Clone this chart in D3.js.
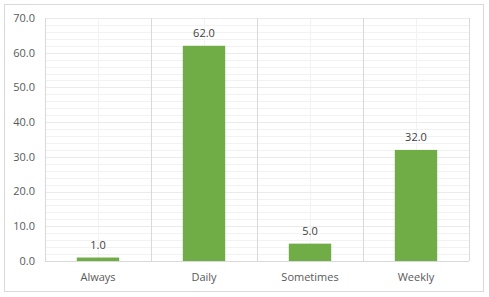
<!DOCTYPE html>
<html>
<head>
<meta charset="utf-8">
<script src="https://cdn.jsdelivr.net/npm/d3@7"></script>
<style>
  body { margin: 0; background: #fff; }
  text { font-family: "Open Sans", "Liberation Sans", sans-serif; }
</style>
</head>
<body>
<svg id="chart" width="489" height="297"></svg>
<script>
var categories = ["Always", "Daily", "Sometimes", "Weekly"];
var values = [1.0, 62.0, 5.0, 32.0];
var yTicks = [0, 10, 20, 30, 40, 50, 60, 70];

var svg = d3.select("#chart"),
    margin = {top: 18, right: 20, bottom: 36, left: 45},
    width = 489 - margin.left - margin.right,
    height = 297 - margin.top - margin.bottom;

// outer frame
svg.append("rect")
  .attr("x", 4.5).attr("y", 4.5)
  .attr("width", 479).attr("height", 287)
  .attr("fill", "#fff")
  .attr("stroke", "#d9d9d9");

var g = svg.append("g").attr("transform", "translate(" + margin.left + "," + margin.top + ")");

var x = d3.scaleBand().domain(categories).range([0, width]).paddingInner(0).paddingOuter(0);
var y = d3.scaleLinear().domain([0, 70]).range([height, 0]);

// minor horizontal grid every 2
var minor = d3.range(0, 71, 2);
g.selectAll(".hminor").data(minor).enter().append("line")
  .attr("x1", 0).attr("x2", width)
  .attr("y1", function (d) { return Math.round(y(d)) + 0.5; })
  .attr("y2", function (d) { return Math.round(y(d)) + 0.5; })
  .attr("stroke", "#f2f2f2");

// minor vertical lines at category centers
g.selectAll(".vminor").data(categories).enter().append("line")
  .attr("x1", function (d) { return Math.round(x(d) + x.bandwidth() / 2) + 0.5; })
  .attr("x2", function (d) { return Math.round(x(d) + x.bandwidth() / 2) + 0.5; })
  .attr("y1", 0).attr("y2", height)
  .attr("stroke", "#f2f2f2");

// major horizontal grid
g.selectAll(".hmajor").data(yTicks).enter().append("line")
  .attr("x1", 0).attr("x2", width)
  .attr("y1", function (d) { return Math.round(y(d)) + 0.5; })
  .attr("y2", function (d) { return Math.round(y(d)) + 0.5; })
  .attr("stroke", "#ebebeb");

// major vertical lines at category boundaries
var bounds = categories.map(function (d) { return x(d); }).concat([width]);
g.selectAll(".vmajor").data(bounds).enter().append("line")
  .attr("x1", function (d) { return Math.round(d) + 0.5; })
  .attr("x2", function (d) { return Math.round(d) + 0.5; })
  .attr("y1", 0).attr("y2", height)
  .attr("stroke", "#d9d9d9");

// bottom axis line
g.append("line")
  .attr("x1", 0).attr("x2", width)
  .attr("y1", Math.round(y(0)) + 0.5).attr("y2", Math.round(y(0)) + 0.5)
  .attr("stroke", "#d9d9d9");

// bars
var barW = x.bandwidth() * 0.4;
g.selectAll(".bar").data(values).enter().append("rect")
  .attr("x", function (d, i) { return x(categories[i]) + (x.bandwidth() - barW) / 2; })
  .attr("y", function (d) { return y(d); })
  .attr("width", barW)
  .attr("height", function (d) { return y(0) - y(d); })
  .attr("fill", "#70ad47");

// value labels
g.selectAll(".lbl").data(values).enter().append("text")
  .attr("x", function (d, i) { return x(categories[i]) + x.bandwidth() / 2; })
  .attr("y", function (d) { return y(d) - 9; })
  .attr("text-anchor", "middle")
  .attr("font-size", "11px")
  .attr("fill", "#404040")
  .text(function (d) { return d.toFixed(1); });

// y tick labels
g.selectAll(".ytick").data(yTicks).enter().append("text")
  .attr("x", -10)
  .attr("y", function (d) { return y(d); })
  .attr("dy", "0.35em")
  .attr("text-anchor", "end")
  .attr("font-size", "11px")
  .attr("fill", "#595959")
  .text(function (d) { return d.toFixed(1); });

// category labels
g.selectAll(".xtick").data(categories).enter().append("text")
  .attr("x", function (d) { return x(d) + x.bandwidth() / 2; })
  .attr("y", height + 16)
  .attr("dy", "0.35em")
  .attr("text-anchor", "middle")
  .attr("font-size", "11px")
  .attr("fill", "#595959")
  .text(function (d) { return d; });
</script>
</body>
</html>
